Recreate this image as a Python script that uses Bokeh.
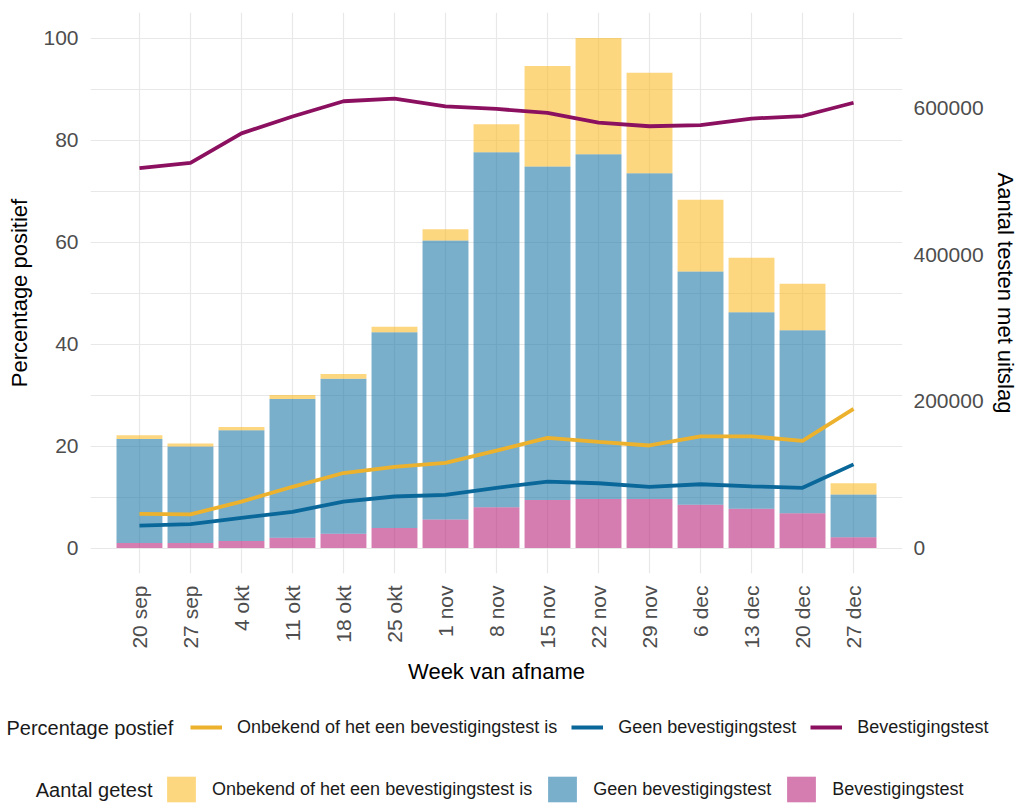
import math
from bokeh.plotting import figure
from bokeh.layouts import column
from bokeh.models import (Range1d, LinearAxis, FixedTicker, NumeralTickFormatter,
                          ColumnDataSource, Legend, LegendItem, Label)
from bokeh.embed import file_html
from bokeh.resources import INLINE

# ---------------- data ----------------
weeks = ["20 sep", "27 sep", "4 okt", "11 okt", "18 okt", "25 okt", "1 nov", "8 nov",
         "15 nov", "22 nov", "29 nov", "6 dec", "13 dec", "20 dec", "27 dec"]

# Aantal getest (stacked bars, right axis)
aantal_bevestiging = [6950, 6950, 9700, 13900, 19500, 27100, 38900, 55600,
                      65300, 66700, 66700, 59100, 53500, 47300, 14600]
aantal_geen = [141800, 131400, 150900, 189100, 211300, 267000, 380300, 483900,
               454700, 470000, 444200, 317700, 267700, 249600, 58400]
aantal_onbekend = [4900, 4200, 4200, 5600, 6300, 7600, 15300, 38200,
                   137000, 158500, 137000, 98000, 74400, 63300, 15300]

# Percentage positief (lines, left axis)
pct_onbekend = [6.7, 6.6, 9.1, 12.0, 14.7, 15.9, 16.7, 19.1,
                21.6, 20.8, 20.1, 21.9, 21.9, 21.0, 27.3]
pct_geen = [4.4, 4.7, 5.9, 7.1, 9.1, 10.1, 10.4, 11.8,
            13.0, 12.7, 12.0, 12.5, 12.1, 11.8, 16.4]
pct_bevestiging = [74.5, 75.5, 81.3, 84.6, 87.6, 88.1, 86.6, 86.1,
                   85.3, 83.4, 82.7, 82.9, 84.2, 84.7, 87.3]

left_ticks = [0, 20, 40, 60, 80, 100]
left_minor = [10, 30, 50, 70, 90]
right_ticks = [0, 200000, 400000, 600000]

legend_lines_title = "Percentage postief"
legend_lines = ["Onbekend of het een bevestigingstest is", "Geen bevestigingstest", "Bevestigingstest"]
legend_bars_title = "Aantal getest"
legend_bars = ["Onbekend of het een bevestigingstest is", "Geen bevestigingstest", "Bevestigingstest"]

# ---------------- styling ----------------
FONT = "Liberation Sans"
C_YEL_BAR, C_BLU_BAR, C_PNK_BAR = "#FBBD2C", "#217AA8", "#B9267B"
C_YEL_LN, C_BLU_LN, C_PUR_LN = "#ECB22E", "#0A679A", "#8C1060"
BAR_ALPHA = 0.6
LINE_W = 3.8
GRID = "#E8E8E8"
TICK_COL = "#4D4D4D"
TEXT_COL = "#1A1A1A"

x = list(range(len(weeks)))
totals = [a + b + c for a, b, c in zip(aantal_bevestiging, aantal_geen, aantal_onbekend)]
per_pct = max(totals) / 100.0  # the largest bar reaches 100 on the left scale

W = 1020
H_MAIN = 690
H_LEG = 115

p = figure(width=W, height=H_MAIN, output_backend="svg", toolbar_location=None,
           x_range=Range1d(-0.96, len(weeks) - 1 + 0.96),
           y_range=Range1d(-5, 105),
           min_border_left=90, min_border_right=112, min_border_top=12, min_border_bottom=117)
p.extra_y_ranges = {"count": Range1d(-5 * per_pct, 105 * per_pct)}
p.outline_line_color = None
p.background_fill_color = "white"
p.border_fill_color = "white"

src = ColumnDataSource(dict(x=x, bev=aantal_bevestiging, geen=aantal_geen, onb=aantal_onbekend,
                            p_onb=pct_onbekend, p_geen=pct_geen, p_bev=pct_bevestiging))
p.vbar_stack(["bev", "geen", "onb"], x="x", width=0.9, source=src,
             fill_color=[C_PNK_BAR, C_BLU_BAR, C_YEL_BAR], fill_alpha=BAR_ALPHA,
             line_color=None, y_range_name="count")

p.line("x", "p_onb", source=src, line_color=C_YEL_LN, line_width=LINE_W)
p.line("x", "p_geen", source=src, line_color=C_BLU_LN, line_width=LINE_W)
p.line("x", "p_bev", source=src, line_color=C_PUR_LN, line_width=LINE_W)


def style_axis(ax):
    ax.axis_line_color = None
    ax.major_tick_line_color = None
    ax.minor_tick_line_color = None
    ax.major_tick_out = 0
    ax.minor_tick_out = 0
    ax.major_tick_in = 0
    ax.minor_tick_in = 0
    ax.major_label_text_font = FONT
    ax.major_label_text_font_size = "21px"
    ax.major_label_text_color = TICK_COL
    ax.axis_label_text_font = FONT
    ax.axis_label_text_font_size = "22px"
    ax.axis_label_text_font_style = "normal"
    ax.axis_label_text_color = "#000000"


yax = p.yaxis[0]
yax.ticker = FixedTicker(ticks=left_ticks, minor_ticks=left_minor)
yax.axis_label = "Percentage positief"
style_axis(yax)
yax.major_label_standoff = 12
yax.axis_label_standoff = 8

xax = p.xaxis[0]
xax.ticker = FixedTicker(ticks=x)
xax.major_label_overrides = {i: w for i, w in zip(x, weeks)}
xax.major_label_orientation = math.pi / 2
xax.axis_label = "Week van afname"
style_axis(xax)
xax.major_label_standoff = 12
xax.axis_label_standoff = 7

rax = LinearAxis(y_range_name="count", ticker=FixedTicker(ticks=right_ticks),
                 formatter=NumeralTickFormatter(format="0"),
                 axis_label="Aantal testen met uitslag")
style_axis(rax)
rax.major_label_standoff = 11
rax.axis_label_standoff = 6
p.add_layout(rax, "right")

p.ygrid.ticker = FixedTicker(ticks=left_ticks, minor_ticks=left_minor)
p.ygrid.grid_line_color = GRID
p.ygrid.grid_line_width = 1.2
p.ygrid.minor_grid_line_color = GRID
p.ygrid.minor_grid_line_width = 1.0
p.xgrid.grid_line_color = GRID
p.xgrid.grid_line_width = 1.2

# ---------------- legend strip (second figure below the chart) ----------------
q = figure(width=W, height=H_LEG, output_backend="svg", toolbar_location=None,
           x_axis_location=None, y_axis_location=None,
           x_range=Range1d(0, 1), y_range=Range1d(0, 1),
           min_border_left=0, min_border_right=0, min_border_top=0, min_border_bottom=0)
q.outline_line_color = None
q.grid.visible = False
q.background_fill_color = "white"
q.border_fill_color = "white"

for fig in (p, q):
    try:
        fig.frame_align = False
    except Exception:
        pass

# hidden copies of the series: they only supply the legend keys' styles
k_onb = q.line("x", "p_onb", source=src, line_color=C_YEL_LN, line_width=LINE_W, visible=False)
k_geen = q.line("x", "p_geen", source=src, line_color=C_BLU_LN, line_width=LINE_W, visible=False)
k_bev = q.line("x", "p_bev", source=src, line_color=C_PUR_LN, line_width=LINE_W, visible=False)
kb_onb = q.vbar(x="x", top="onb", width=0.9, source=src, fill_color=C_YEL_BAR,
                fill_alpha=BAR_ALPHA, line_color=None, visible=False)
kb_geen = q.vbar(x="x", top="geen", width=0.9, source=src, fill_color=C_BLU_BAR,
                 fill_alpha=BAR_ALPHA, line_color=None, visible=False)
kb_bev = q.vbar(x="x", top="bev", width=0.9, source=src, fill_color=C_PNK_BAR,
                fill_alpha=BAR_ALPHA, line_color=None, visible=False)

common = dict(orientation="horizontal", padding=0, margin=0,
              border_line_color=None, background_fill_alpha=0,
              inactive_fill_alpha=0,
              label_text_font=FONT, label_text_font_size="18px", label_text_color=TEXT_COL)

leg1 = Legend(items=[LegendItem(label=legend_lines[0], renderers=[k_onb]),
                     LegendItem(label=legend_lines[1], renderers=[k_geen]),
                     LegendItem(label=legend_lines[2], renderers=[k_bev])],
              location=(190, 66), glyph_width=32, glyph_height=24, label_height=24,
              label_standoff=15, spacing=14, **common)
q.add_layout(leg1)

leg2 = Legend(items=[LegendItem(label=legend_bars[0], renderers=[kb_onb]),
                     LegendItem(label=legend_bars[1], renderers=[kb_geen]),
                     LegendItem(label=legend_bars[2], renderers=[kb_bev])],
              location=(163, 0), glyph_width=36, glyph_height=32, label_height=32,
              label_standoff=13, spacing=12, **common)
q.add_layout(leg2)

q.add_layout(Label(x=6, y=78, x_units="screen", y_units="screen",
                   text=legend_lines_title, text_font=FONT, text_font_size="20px",
                   text_align="left", text_baseline="middle", text_color=TEXT_COL))
q.add_layout(Label(x=152, y=16, x_units="screen", y_units="screen",
                   text=legend_bars_title, text_font=FONT, text_font_size="20px",
                   text_align="right", text_baseline="middle", text_color=TEXT_COL))

layout = column(p, q, spacing=0)
open("out.html", "w").write(file_html(layout, INLINE))
